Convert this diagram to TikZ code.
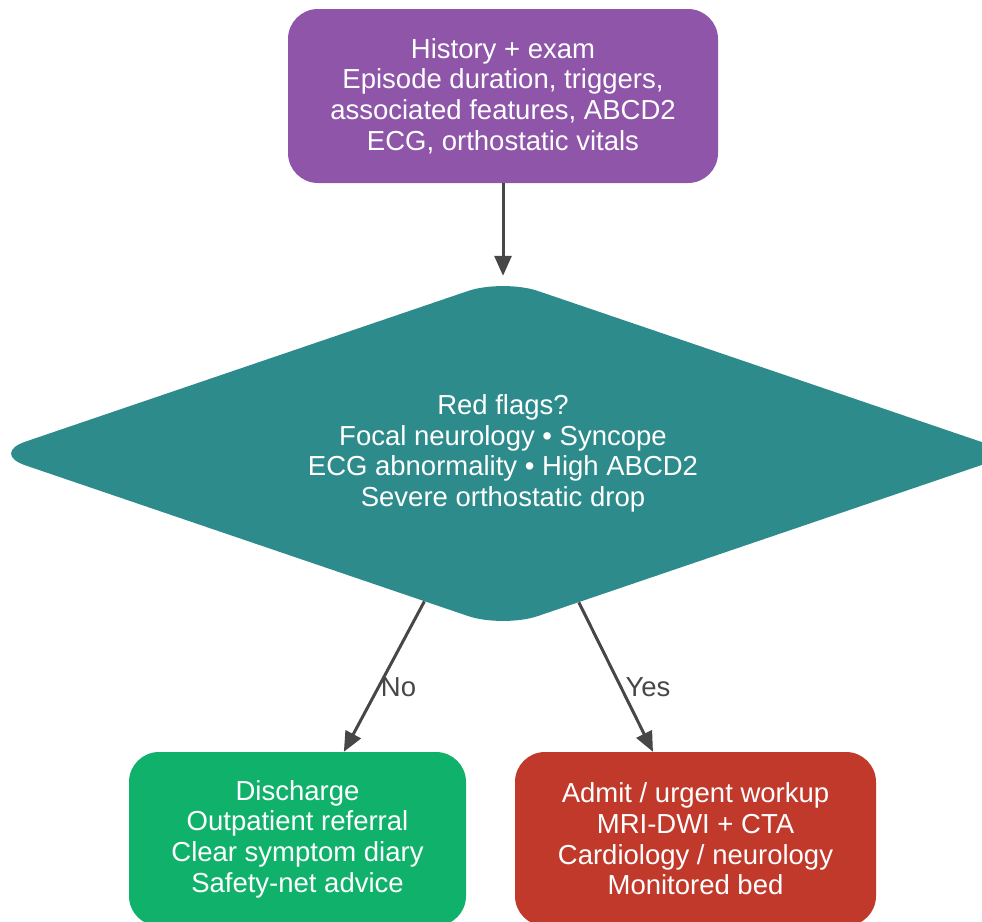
\documentclass[tikz,border=0pt]{standalone}
\usepackage{fontspec}
\setmainfont{Liberation Sans}
\usetikzlibrary{shapes.geometric,arrows.meta}

\definecolor{histpurple}{HTML}{8E55A8}
\definecolor{flagteal}{HTML}{2E8B8B}
\definecolor{dischgreen}{HTML}{10B26B}
\definecolor{admitred}{HTML}{C0392B}
\definecolor{arrowgray}{HTML}{474747}

\begin{document}
\begin{tikzpicture}[x=1pt,y=-1pt,
        box/.style={rounded corners=30pt, text=white, align=center, inner sep=0pt,
            font=\fontsize{27.5}{30.7}\selectfont},
        flow/.style={draw=arrowgray, line width=3pt, -{Triangle[length=20pt,width=17pt]}},
        lbl/.style={text=arrowgray, font=\fontsize{27.5}{30}\selectfont}]
        \useasboundingbox (0,0) rectangle (982,921);
        \clip (0,0) rectangle (982,921);
        % boxes
        \node[box, fill=histpurple, minimum width=430pt, minimum height=174pt] (hist) at (503,96)
            {History + exam\\Episode duration, triggers,\\associated features, ABCD2\\ECG, orthostatic vitals};
        \node[box, shape=diamond, aspect=3, fill=flagteal, rounded corners=37pt,
            minimum width=1025pt, minimum height=349pt] (flags) at (503,453.5)
            {Red flags?\\Focal neurology \textbullet{} Syncope\\ECG abnormality \textbullet{} High ABCD2\\Severe orthostatic drop};
        \node[box, fill=dischgreen, minimum width=337pt, minimum height=174pt] (disch) at (297.5,839)
            {Discharge\\Outpatient referral\\Clear symptom diary\\Safety-net advice};
        \node[box, fill=admitred, minimum width=361pt, minimum height=174pt] (admit) at (695.5,839)
            {Admit / urgent workup\\MRI-DWI + CTA\\Cardiology / neurology\\Monitored bed};
        % arrows
        \draw[flow, shorten >=3pt] (hist.south) -- (flags.north);
        \draw[flow] (flags.242) -- (disch.62) node[lbl, pos=0.57, right, inner sep=1pt]{No};
        \draw[flow] (flags.297) -- (admit.116) node[lbl, pos=0.57, right, inner sep=3pt]{Yes};
    \end{tikzpicture}
\end{document}
